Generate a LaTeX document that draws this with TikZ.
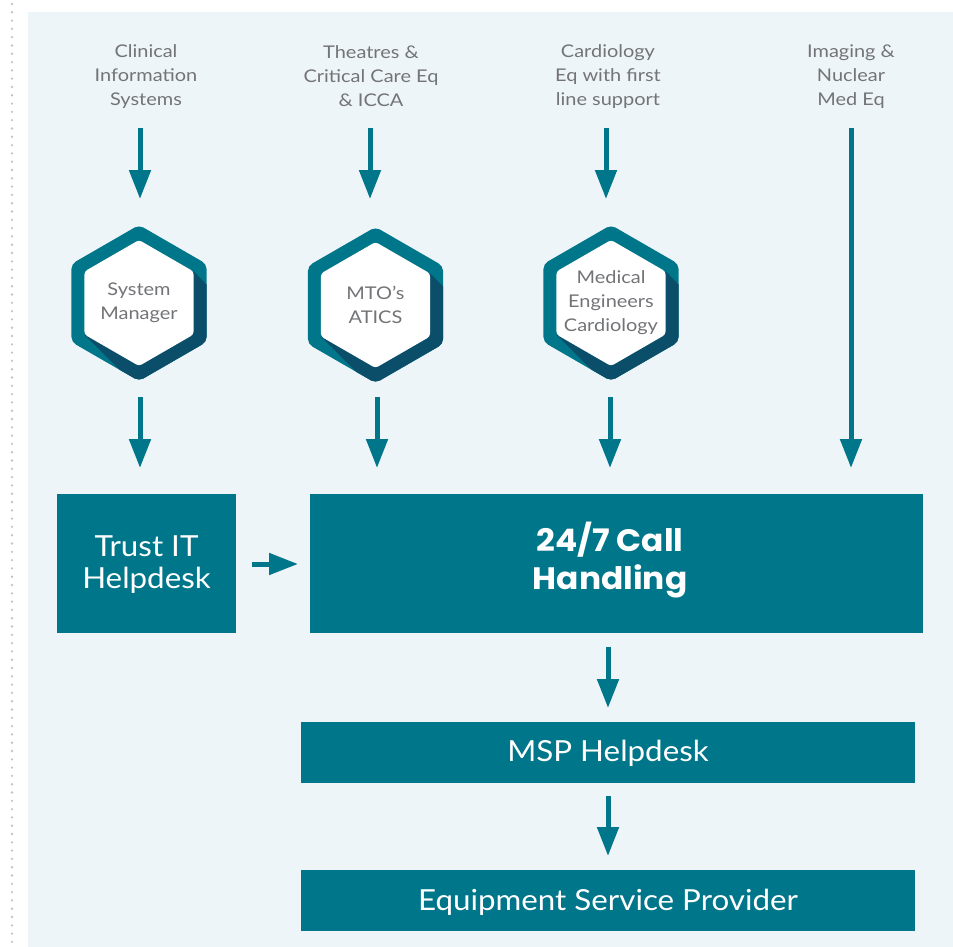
\documentclass[tikz,border=0pt]{standalone}
\usepackage{fontspec}
\setmainfont{Lato}[FakeStretch=1.14]
\newfontfamily\boxfont{Lato}[FakeStretch=1.08]
\newfontfamily\headfont{Poppins}[FakeStretch=1.06]
\usetikzlibrary{arrows.meta}

\definecolor{teal}{HTML}{00768A}
\definecolor{tealdark}{HTML}{0B4E6A}
\definecolor{panel}{HTML}{EEF5F8}
\definecolor{labelgray}{HTML}{737477}
\definecolor{dotgray}{HTML}{C2C4C6}

\tikzset{
  arr/.style={draw=teal, line width=5pt, -{Triangle[width=21pt,length=29pt]}},
  toplabel/.style={text=labelgray, align=center, font=\fontsize{17.5}{24}\selectfont, inner sep=0pt},
  hextext/.style={text=labelgray, align=center, font=\fontsize{17.5}{24}\selectfont, inner sep=0pt},
  bigbox/.style={fill=teal, inner sep=0pt},
  boxtext/.style={text=white, align=center, inner sep=0pt, font=\boxfont\fontsize{29}{32}\selectfont},
}

% hexagonal badge: name, centre x, centre y, text
\newcommand\hexbadge[4]{%
  \begin{scope}[shift={(#2,#3)}]
    \path[fill=teal, rounded corners=5pt]
      (0,-78) -- (67.55,-39) -- (67.55,39) -- (0,78) -- (-67.55,39) -- (-67.55,-39) -- cycle;
    \begin{scope}
      \clip[rounded corners=5pt]
        (0,-78) -- (67.55,-39) -- (67.55,39) -- (0,78) -- (-67.55,39) -- (-67.55,-39) -- cycle;
      \fill[tealdark] (54.56,-31.5) -- (174.56,88.5) -- (65.44,151.5) -- (-54.56,31.5) -- cycle;
    \end{scope}
    \path[fill=white, rounded corners=3pt]
      (0,-63) -- (54.56,-31.5) -- (54.56,31.5) -- (0,63) -- (-54.56,31.5) -- (-54.56,-31.5) -- cycle;
    \node[hextext] (#1) at (0,0) {#4};
  \end{scope}}

\begin{document}
\begin{tikzpicture}[x=1pt,y=-1pt]
  \useasboundingbox (0,0) rectangle (953,947);

  % dotted rule on the left and panel background
  \draw[dotgray, line width=2.6pt, line cap=round, dash pattern=on 0pt off 8.3pt] (12,4) -- (12,947);
  \fill[panel] (28,12) rectangle (953,947);

  % source labels
  \node[toplabel] (src1) at (146,76.5) {Clinical\\Information\\Systems};
  \node[toplabel] (src2) at (371,76.5) {Theatres \&\\Critical Care Eq\\\& ICCA};
  \node[toplabel] (src3) at (608,76.5) {Cardiology\\Eq with first\\line support};
  \node[toplabel] (src4) at (851,76.5) {Imaging \&\\Nuclear\\Med Eq};

  % badges
  \hexbadge{sysman}{139}{303}{System\\Manager}
  \hexbadge{mto}{375.5}{305}{MTO’s\\ATICS}
  \hexbadge{medeng}{611}{303}{Medical\\Engineers\\Cardiology}

  % boxes
  \node[bigbox, minimum width=179pt, minimum height=139pt] (trust) at (146.5,563.5) {};
  \node[boxtext] (trust-text) at (146.5,565) {Trust IT\\Helpdesk};
  \node[bigbox, minimum width=613pt, minimum height=139pt] (call) at (616.5,563.5) {};
  \node[boxtext, font=\headfont\bfseries\fontsize{31}{38}\selectfont] (call-text) at (610,560) {24/7 Call\\Handling};
  \node[bigbox, minimum width=614pt, minimum height=61pt] (msp) at (608,752.5) {};
  \node[boxtext] (msp-text) at (608,753) {MSP Helpdesk};
  \node[bigbox, minimum width=614pt, minimum height=61pt] (esp) at (608,900.5) {};
  \node[boxtext] (esp-text) at (608,902) {Equipment Service Provider};

  % connector end points
  \coordinate (src1-out) at (140,128);  \coordinate (sysman-in) at (140,199);
  \coordinate (src2-out) at (370,128);  \coordinate (mto-in) at (370,199);
  \coordinate (src3-out) at (606,128);  \coordinate (medeng-in) at (606,199);
  \coordinate (src4-out) at (851,128);  \coordinate (call-in4) at (851,468);
  \coordinate (sysman-out) at (140,397); \coordinate (trust-in) at (140,468);
  \coordinate (mto-out) at (377,397);    \coordinate (call-in2) at (377,468);
  \coordinate (medeng-out) at (610,397); \coordinate (call-in3) at (610,468);
  \coordinate (trust-out) at (252,564);  \coordinate (call-in1) at (298,564);
  \coordinate (call-out) at (608,647);   \coordinate (msp-in) at (608,708);
  \coordinate (msp-out) at (608,796);    \coordinate (esp-in) at (608,856);

  % connectors
  \draw[arr] (src1-out) -- (sysman-in);
  \draw[arr] (src2-out) -- (mto-in);
  \draw[arr] (src3-out) -- (medeng-in);
  \draw[arr] (src4-out) -- (call-in4);
  \draw[arr] (sysman-out) -- (trust-in);
  \draw[arr] (mto-out) -- (call-in2);
  \draw[arr] (medeng-out) -- (call-in3);
  \draw[arr] (trust-out) -- (call-in1);
  \draw[arr] (call-out) -- (msp-in);
  \draw[arr] (msp-out) -- (esp-in);
\end{tikzpicture}
\end{document}
